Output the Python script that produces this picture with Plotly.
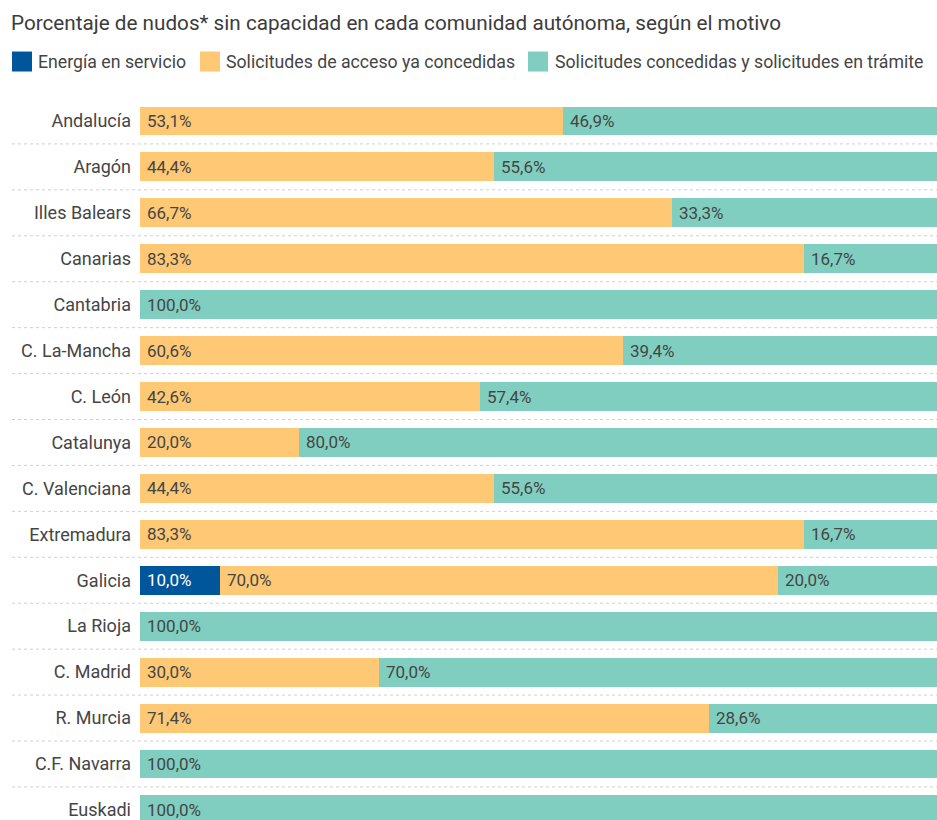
import plotly.graph_objects as go

# Data: share of nodes without capacity in each region, by reason (%)
regions = [
    "Andalucía", "Aragón", "Illes Balears", "Canarias", "Cantabria",
    "C. La-Mancha", "C. León", "Catalunya", "C. Valenciana", "Extremadura",
    "Galicia", "La Rioja", "C. Madrid", "R. Murcia", "C.F. Navarra", "Euskadi",
]
energia_servicio = [0, 0, 0, 0, 0, 0, 0, 0, 0, 0, 10.0, 0, 0, 0, 0, 0]
acceso_concedidas = [53.1, 44.4, 66.7, 83.3, 0, 60.6, 42.6, 20.0, 44.4, 83.3,
                     70.0, 0, 30.0, 71.4, 0, 0]
concedidas_tramite = [46.9, 55.6, 33.3, 16.7, 100.0, 39.4, 57.4, 80.0, 55.6, 16.7,
                      20.0, 100.0, 70.0, 28.6, 100.0, 100.0]

series_names = [
    "Energía en servicio",
    "Solicitudes de acceso ya concedidas",
    "Solicitudes concedidas y solicitudes en trámite",
]
series_values = [energia_servicio, acceso_concedidas, concedidas_tramite]
colors = ["#00569A", "#FEC875", "#80CEC0"]
label_colors = ["#ffffff", "#454545", "#454545"]

title = "Porcentaje de nudos* sin capacidad en cada comunidad autónoma, según el motivo"

W, H = 937, 820
L, T = 140, 97.5
FONT = "Roboto"

ypos = list(range(len(regions)))

fig = go.Figure()
for name, vals, col in zip(series_names, series_values, colors):
    fig.add_trace(go.Bar(
        y=ypos, x=vals, name=name, orientation="h",
        marker=dict(color=col, line=dict(width=0)),
        width=0.63, showlegend=False, hoverinfo="skip",
    ))

def px_x(px):
    return (px - L) / (W - L)

def px_y(py):
    return (H - py) / (H - T)

annotations = []
# value labels at the start of each segment
for i in range(len(regions)):
    start = 0.0
    for vals, lc in zip(series_values, label_colors):
        v = vals[i]
        if v > 0:
            annotations.append(dict(
                x=start, y=i, xref="x", yref="y", text=f"{v:.1f}%".replace(".", ","),
                showarrow=False, xanchor="left", yanchor="middle", xshift=5,
                font=dict(family=FONT, size=17, color=lc),
            ))
        start += v

# dotted separators between rows
shapes = []
for i in range(len(regions) - 1):
    shapes.append(dict(
        type="line", xref="paper", yref="y", x0=px_x(12), x1=1,
        y0=i + 0.5, y1=i + 0.5,
        line=dict(color="#d0d0d0", width=1, dash="dot"),
    ))

# legend row
legend_sq_x = [12, 200, 528]
legend_txt_x = [36, 224, 553]
for name, col, sx, tx in zip(series_names, colors, legend_sq_x, legend_txt_x):
    shapes.append(dict(
        type="rect", xref="paper", yref="paper",
        x0=px_x(sx), x1=px_x(sx + 20), y0=px_y(71), y1=px_y(51),
        fillcolor=col, line=dict(width=0),
    ))
    annotations.append(dict(
        x=px_x(tx), y=px_y(61), xref="paper", yref="paper", text=name,
        showarrow=False, xanchor="left", yanchor="middle",
        font=dict(family=FONT, size=17.7, color="#454545"),
    ))

# title
annotations.append(dict(
    x=px_x(9), y=px_y(22), xref="paper", yref="paper", text=title,
    showarrow=False, xanchor="left", yanchor="middle",
    font=dict(family=FONT, size=20.7, color="#3c3c3c"),
))

fig.update_layout(
    width=W, height=H,
    margin=dict(l=L, r=0, t=T, b=0, pad=0),
    barmode="stack",
    paper_bgcolor="white", plot_bgcolor="white",
    font=dict(family=FONT),
    bargap=0,
    xaxis=dict(range=[0, 100], visible=False, fixedrange=True),
    yaxis=dict(
        range=[15.22, -0.5], tickvals=ypos, ticktext=regions,
        showgrid=False, zeroline=False, showline=False, ticks="",
        ticklabelstandoff=8, ticklabeloverflow="allow",
        tickfont=dict(family=FONT, size=18, color="#454545"),
        fixedrange=True,
    ),
    shapes=shapes,
    annotations=annotations,
)

fig.write_html("out.html")
